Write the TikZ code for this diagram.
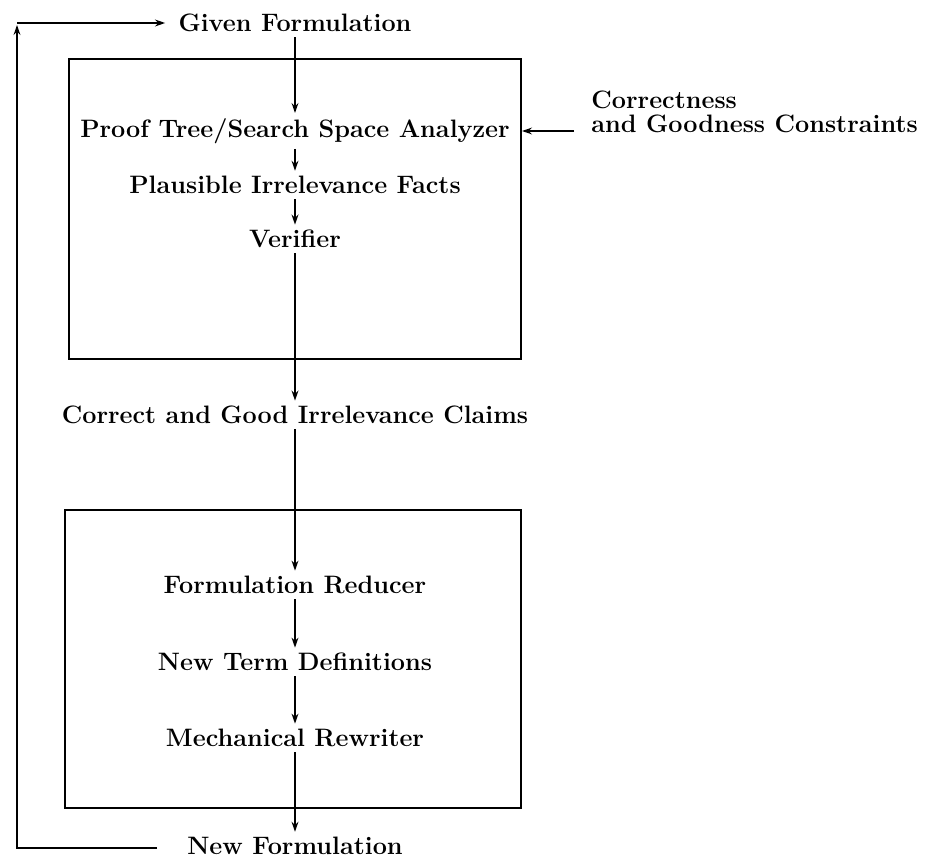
\documentclass[tikz,border=0pt]{standalone}
\usetikzlibrary{arrows.meta}
\begin{document}
\begin{tikzpicture}[x=0.5pt,y=-0.5pt,
  line width=1.4pt,
  txt/.style={font={\fontsize{12.6}{14}\selectfont\bfseries}, inner sep=2pt},
  flow/.style={-{Stealth[length=5pt,width=3.4pt]}},
  frame/.style={line width=1.4pt}]
\useasboundingbox (0,0) rectangle (927,861);

% stages of the process
\node[txt] (gf) at (295,23)  {Given Formulation};
\node[txt] (an) at (295,131) {Proof Tree/Search Space Analyzer};
\node[txt] (pf) at (295,185) {Plausible Irrelevance Facts};
\node[txt] (ve) at (295,239) {Verifier};
\node[txt] (cg) at (295,415) {Correct and Good Irrelevance Claims};
\node[txt] (fr) at (295,585) {Formulation Reducer};
\node[txt] (nt) at (295,662) {New Term Definitions};
\node[txt] (mr) at (295,738) {Mechanical Rewriter};
\node[txt] (nf) at (295,846) {New Formulation};

% side input
\node[txt, anchor=west, align=left, font={\fontsize{12.6}{12.2}\selectfont\bfseries}] (cons) at (586,112)
  {Correctness\\and Goodness Constraints};

% enclosing boxes
\draw[frame] (69,59) rectangle (521,359);
\draw[frame] (65,510) rectangle (521,808);
\coordinate (boxedge) at (522,131);
\coordinate (cs) at (574,131);

% main flow
\draw[flow] (gf) -- (an);
\draw[flow] (an) -- (pf);
\draw[flow] (pf) -- (ve);
\draw[flow] (ve) -- (cg);
\draw[flow] (cg) -- (fr);
\draw[flow] (fr) -- (nt);
\draw[flow] (nt) -- (mr);
\draw[flow] (mr) -- (nf);

% constraints feed the analyzer
\draw[flow] (cs) -- (boxedge);

% feedback loop
\coordinate (lb) at (17,848);
\coordinate (lt) at (17,25);
\coordinate (tl) at (17,23);
\coordinate (nfw) at (157,848);
\draw[flow] (nfw) -- (lb) -- (lt);
\draw[flow, shorten >=4pt] (tl) -- (gf.west);
\end{tikzpicture}
\end{document}
